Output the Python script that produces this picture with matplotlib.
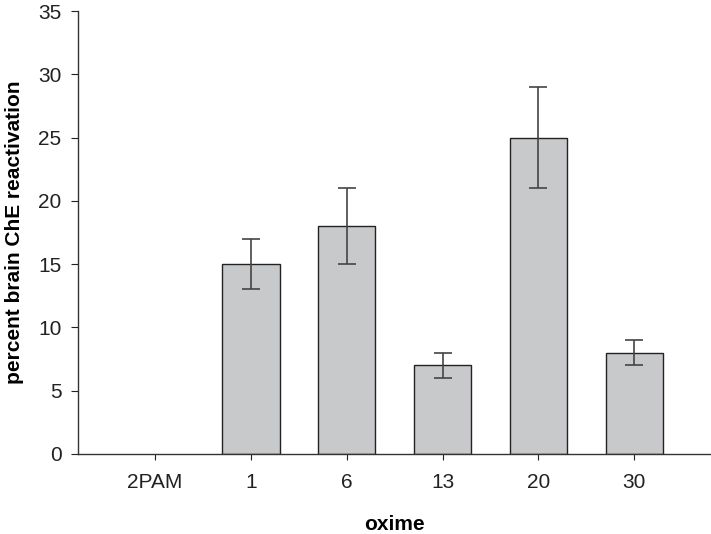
import matplotlib
matplotlib.use("Agg")
import matplotlib.pyplot as plt
import numpy as np

plt.rcParams['font.family'] = ['Liberation Sans', 'DejaVu Sans']

oximes = ['2PAM', '1', '6', '13', '20', '30']
reactivation = [0, 15, 18, 7, 25, 8]
errors = [0, 2, 3, 1, 4, 1]

fig = plt.figure(figsize=(7.11, 5.34), dpi=100)
ax = fig.add_axes([0.110, 0.150, 0.890, 0.829])

x = np.arange(len(oximes))
# a zero bar would leave a dark edge line on the axis, so it gets no edge
edges = ['#222222' if v > 0 else 'none' for v in reactivation]
ax.bar(x, reactivation, width=0.6, color='#c8c9cb', edgecolor=edges,
       linewidth=1.0, zorder=2)
err_x = [xi for xi, e in zip(x, errors) if e > 0]
err_y = [v for v, e in zip(reactivation, errors) if e > 0]
err_e = [e for e in errors if e > 0]
ax.errorbar(err_x, err_y, yerr=err_e, fmt='none', ecolor='#444444',
            elinewidth=1.2, capsize=6.5, capthick=1.2, zorder=3)

ax.set_xlim(-0.8, 5.8)
ax.set_ylim(0, 35)
ax.set_yticks(range(0, 36, 5))
ax.set_xticks(x)
ax.set_xticklabels(oximes)

for side in ['top', 'right']:
    ax.spines[side].set_visible(False)
for side in ['left', 'bottom']:
    ax.spines[side].set_color('#333333')
    ax.spines[side].set_linewidth(1.0)

ax.tick_params(axis='both', direction='out', labelsize=15, colors='#222222')
ax.tick_params(axis='x', length=4.5, pad=9)
ax.tick_params(axis='y', length=5, pad=7)

ax.set_xlabel('oxime', fontsize=15, fontweight='bold', labelpad=17)
ax.set_ylabel('percent brain ChE reactivation', fontsize=15, fontweight='bold',
              labelpad=10)

fig.savefig('out.png', dpi=100)
